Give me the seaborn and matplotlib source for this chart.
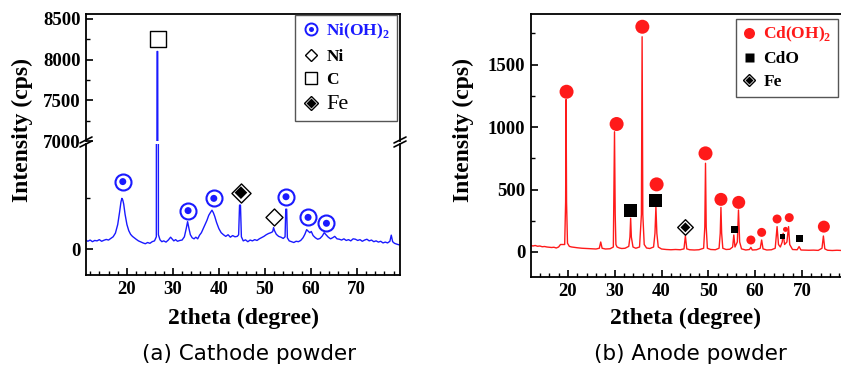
import numpy as np
import pandas as pd
import matplotlib
matplotlib.use("Agg")
import matplotlib.pyplot as plt
import seaborn as sns
from matplotlib.lines import Line2D
from matplotlib.ticker import MultipleLocator, FixedLocator

# ---------------- data: (a) cathode powder ----------------
cath_x = [11.0, 11.5, 12.0, 12.5, 13.0, 13.5, 14.0, 14.5, 15.0, 15.5, 16.0, 16.5, 17.0, 17.5,
          18.0, 18.4, 18.7, 18.9, 19.1, 19.3, 19.6, 20.0, 20.4, 20.8, 21.2, 21.6, 22.0, 22.5,
          23.0, 23.5, 24.0, 24.5, 25.0, 25.5, 26.0, 26.4, 26.55, 26.7, 26.85, 27.2, 27.6, 28.0,
          28.5, 29.0, 29.5, 29.8, 30.2, 30.6, 31.0, 31.5, 32.0, 32.5, 32.9, 33.2, 33.5, 33.8,
          34.2, 34.6, 35.0, 35.4, 35.8, 36.2, 36.6, 37.0, 37.4, 37.8, 38.2, 38.5, 38.8, 39.1,
          39.5, 40.0, 40.5, 41.0, 41.5, 42.0, 42.5, 43.0, 43.5, 44.0, 44.3, 44.5, 44.7, 44.9,
          45.3, 45.8, 46.3, 46.8, 47.3, 47.8, 48.3, 48.8, 49.3, 49.8, 50.3, 50.8, 51.3, 51.7,
          51.9, 52.1, 52.5, 53.0, 53.5, 54.0, 54.4, 54.55, 54.75, 54.9, 55.3, 55.8, 56.3, 56.8,
          57.3, 57.8, 58.3, 58.7, 59.1, 59.4, 59.8, 60.1, 60.5, 61.0, 61.5, 62.0, 62.5, 62.9,
          63.3, 63.8, 64.3, 64.8, 65.2, 65.7, 66.2, 66.7, 67.2, 67.7, 68.2, 68.7, 69.2, 69.7,
          70.2, 70.7, 71.2, 71.7, 72.2, 72.7, 73.2, 73.7, 74.2, 74.7, 75.2, 75.7, 76.2, 76.7,
          77.2, 77.5, 77.8, 78.2, 78.7, 79.3]
cath_y = [45, 38, 44, 36, 42, 40, 46, 38, 43, 47, 44, 52, 60, 78,
          120, 180, 230, 248, 240, 220, 170, 120, 90, 72, 62, 55, 48, 40,
          35, 30, 26, 32, 28, 36, 40, 60, 8100, 8100, 70, 45, 36, 40,
          34, 44, 58, 50, 40, 46, 38, 42, 44, 60, 100, 134, 100, 70,
          55, 50, 58, 50, 68, 80, 100, 120, 140, 165, 180, 190, 178, 160,
          130, 100, 80, 70, 62, 70, 58, 66, 60, 62, 70, 215, 215, 60,
          40, 45, 36, 44, 40, 46, 42, 50, 56, 62, 70, 76, 80, 85,
          105, 90, 72, 62, 58, 52, 60, 195, 195, 55, 40, 36, 32, 38,
          36, 42, 55, 72, 95, 88, 80, 86, 66, 55, 48, 52, 64, 80,
          70, 58, 50, 56, 62, 50, 48, 44, 50, 42, 46, 40, 50, 48,
          42, 46, 38, 44, 48, 40, 44, 36, 40, 34, 38, 30, 34, 30,
          38, 68, 36, 28, 24, 20]

nioh_x = [19.1, 33.3, 38.9, 54.6, 59.4, 63.4]
nioh_y = [330, 188, 248, 256, 155, 126]
ni_x, ni_y = [52.0], [158]
c_x, c_y = [26.8], [8256]
fe_a_x, fe_a_y = [44.8], [276]

# ---------------- data: (b) anode powder ----------------
an_x = [11.0, 11.5, 12.0, 12.5, 13.0, 13.5, 14.0, 14.5, 15.0, 15.5, 16.0, 16.5, 17.0, 17.5,
        18.0, 18.4, 19.3, 19.5, 19.6, 19.7, 19.9, 20.3, 20.8, 21.5, 22.0, 23.0, 24.0, 25.0,
        26.0, 26.7, 27.0, 27.3, 28.0, 29.0, 29.7, 29.95, 30.1, 30.25, 30.5, 31.0, 31.5, 32.2,
        33.0, 33.25, 33.4, 33.55, 33.9, 34.5, 35.3, 35.7, 35.85, 36.0, 36.3, 36.8, 37.5, 38.3,
        38.6, 38.8, 39.0, 39.3, 40.0, 41.0, 42.0, 43.0, 44.0, 44.8, 45.1, 45.4, 46.0, 47.0,
        48.0, 49.0, 49.25, 49.4, 49.55, 49.8, 50.5, 51.5, 52.3, 52.55, 52.7, 52.85, 53.1, 53.8,
        54.6, 55.2, 55.45, 55.7, 56.2, 56.45, 56.7, 57.1, 58.0, 58.8, 59.1, 59.4, 60.3, 61.1,
        61.4, 61.7, 62.5, 63.5, 64.3, 64.7, 65.0, 65.4, 65.8, 66.0, 66.3, 66.8, 67.15, 67.4,
        68.0, 69.0, 69.4, 69.8, 70.5, 71.5, 72.5, 73.5, 74.3, 74.6, 74.9, 75.5, 76.5, 77.5,
        78.5, 79.5, 80.5]
an_y = [56, 50, 54, 48, 52, 46, 48, 42, 44, 40, 38, 36, 38, 32,
        40, 60, 60, 400, 1220, 400, 70, 45, 40, 36, 34, 30, 28, 26,
        24, 30, 80, 30, 24, 26, 40, 962, 300, 60, 40, 32, 28, 30,
        45, 120, 270, 120, 40, 30, 40, 300, 1722, 300, 60, 32, 28, 40,
        150, 363, 150, 40, 24, 20, 18, 20, 18, 25, 128, 25, 18, 16,
        18, 30, 200, 710, 200, 30, 20, 18, 30, 150, 357, 150, 30, 20,
        22, 40, 136, 40, 80, 336, 80, 25, 16, 20, 37, 16, 18, 30,
        96, 25, 16, 18, 30, 203, 60, 40, 80, 150, 60, 80, 203, 60,
        20, 18, 43, 16, 15, 14, 15, 13, 30, 128, 25, 14, 12, 14,
        12, 13, 12]

cdoh_x = [19.7, 30.4, 35.9, 38.95, 49.4, 52.7, 56.5, 59.1, 61.4, 64.7, 66.5, 67.3, 74.7]
cdoh_y = [1282, 1024, 1802, 541, 789, 421, 397, 96, 157, 264, 181, 275, 203]
cdoh_px = [14, 14, 14, 14, 14, 13, 13, 9, 9, 9, 5, 9, 12]
cdo_x = [33.4, 38.8, 55.5, 65.9, 69.4]
cdo_y = [336, 410, 181, 128, 109]
cdo_px = [13, 13, 7, 5, 7]
fe_b_x, fe_b_y = [45.1], [197]

# ---------------- style ----------------
sns.set_style("ticks")
plt.rcParams["font.family"] = ["Liberation Serif", "DejaVu Serif"]
plt.rcParams["font.weight"] = "bold"
plt.rcParams["mathtext.fontset"] = "custom"
plt.rcParams["mathtext.rm"] = "Liberation Serif:bold"
plt.rcParams["mathtext.bf"] = "Liberation Serif:bold"
plt.rcParams["axes.linewidth"] = 1.3
for k in ("text.color", "axes.labelcolor", "xtick.color", "ytick.color", "axes.edgecolor"):
    plt.rcParams[k] = "black"

W, H = 841, 369
fig = plt.figure(figsize=(W / 100, H / 100), dpi=100)

def add_ax(l, t, r, b):
    return fig.add_axes([l / W, 1 - b / H, (r - l) / W, (b - t) / H])

BLUE = "#1a1aff"
RED = "#ff1a1a"
PT = 0.72  # points per pixel

def style_ticks(ax):
    ax.tick_params(which="major", direction="in", length=5, width=1.2, labelsize=13.5, pad=4,
                   color="black", labelcolor="black")
    ax.tick_params(which="minor", direction="in", length=3, width=1.0, color="black")
    for lab in ax.get_xticklabels() + ax.get_yticklabels():
        lab.set_fontweight("bold")
    for sp in ax.spines.values():
        sp.set_color("black")

# ---- (a) ----
dfa = pd.DataFrame({"x": cath_x, "y": cath_y})
ax_lo = add_ax(86, 144, 400, 275)
ax_hi = add_ax(86, 14, 400, 141)
for ax in (ax_lo, ax_hi):
    sns.lineplot(data=dfa, x="x", y="y", ax=ax, color=BLUE, linewidth=1.0,
                 sort=False, estimator=None, legend=False)
    ax.set_xlim(11.1, 79.4)
    ax.set_xlabel("")
    ax.set_ylabel("")
ax_lo.set_ylim(-127, 514)
ax_hi.set_ylim(7000, 8561)
ax_lo.spines["top"].set_visible(False)
ax_hi.spines["bottom"].set_visible(False)
ax_lo.yaxis.set_major_locator(FixedLocator([0]))
ax_lo.yaxis.set_minor_locator(FixedLocator([250]))
ax_hi.yaxis.set_major_locator(MultipleLocator(500))
ax_hi.yaxis.set_minor_locator(MultipleLocator(250))
ax_lo.xaxis.set_major_locator(MultipleLocator(10))
ax_lo.xaxis.set_minor_locator(MultipleLocator(2))
ax_hi.tick_params(axis="x", which="both", bottom=False, labelbottom=False)
ax_lo.set_xticks([20, 30, 40, 50, 60, 70])
style_ticks(ax_lo)
style_ticks(ax_hi)

# markers (a)
ax_lo.scatter(nioh_x, nioh_y, s=(16 * PT) ** 2, facecolor="white", edgecolor=BLUE, linewidth=1.5, zorder=5)
ax_lo.scatter(nioh_x, nioh_y, s=(7 * PT) ** 2, facecolor=BLUE, edgecolor="none", zorder=6)
ax_lo.scatter(ni_x, ni_y, marker="D", s=(12 * PT) ** 2, facecolor="white", edgecolor="black", linewidth=1.0, zorder=5)
ax_lo.scatter(fe_a_x, fe_a_y, marker="D", s=(13.5 * PT) ** 2, facecolor="white", edgecolor="black", linewidth=1.0, zorder=5)
ax_lo.scatter(fe_a_x, fe_a_y, marker="D", s=(9 * PT) ** 2, facecolor="black", edgecolor="none", zorder=6)
ax_hi.scatter(c_x, c_y, marker="s", s=(16 * PT) ** 2, facecolor="white", edgecolor="black", linewidth=1.0, zorder=5)

h_nioh = (Line2D([], [], ls="none", marker="o", ms=12 * PT, mfc="white", mec=BLUE, mew=1.4),
          Line2D([], [], ls="none", marker="o", ms=5 * PT, mfc=BLUE, mec="none"))
h_ni = Line2D([], [], ls="none", marker="D", ms=9 * PT, mfc="white", mec="black", mew=1.0)
h_c = Line2D([], [], ls="none", marker="s", ms=12 * PT, mfc="white", mec="black", mew=1.0)
h_fe = (Line2D([], [], ls="none", marker="D", ms=10 * PT, mfc="white", mec="black", mew=1.0),
        Line2D([], [], ls="none", marker="D", ms=6.5 * PT, mfc="black", mec="none"))
leg_a = ax_hi.legend([h_nioh, h_ni, h_c, h_fe], ["Ni(OH)$_\\mathbf{2}$", "Ni", "C", "Fe"],
                     loc="upper right", bbox_to_anchor=(0.99, 0.992), borderaxespad=0,
                     frameon=True, fancybox=False, edgecolor="#555555", framealpha=1,
                     prop={"size": 12.5, "weight": "bold"}, handlelength=1.0,
                     handletextpad=0.4, labelspacing=0.42, borderpad=0.4)
leg_a.get_frame().set_linewidth(1.0)
ts = leg_a.get_texts()
ts[0].set_color(BLUE)
for t in ts[1:]:
    t.set_color("black")
ts[3].set_fontweight("normal")
ts[3].set_fontsize(16)

# break marks
def brk(xp, yp):
    for dy in (0, 4):
        fig.add_artist(Line2D([(xp - 6) / W, (xp + 6) / W],
                              [1 - (yp + dy + 3) / H, 1 - (yp + dy - 3) / H],
                              color="black", lw=1.2, transform=fig.transFigure))
brk(86, 140)
brk(400, 140)

# ---- (b) ----
dfb = pd.DataFrame({"x": an_x, "y": an_y})
ax_b = add_ax(531, 14, 851, 277)
sns.lineplot(data=dfb, x="x", y="y", ax=ax_b, color=RED, linewidth=1.0,
             sort=False, estimator=None, legend=False)
ax_b.set_xlim(12.1, 80.5)
ax_b.set_ylim(-200, 1904)
ax_b.set_xlabel("")
ax_b.set_ylabel("")
ax_b.set_xticks([20, 30, 40, 50, 60, 70])
ax_b.xaxis.set_minor_locator(MultipleLocator(2))
ax_b.yaxis.set_major_locator(FixedLocator([0, 500, 1000, 1500]))
ax_b.yaxis.set_minor_locator(MultipleLocator(250))
style_ticks(ax_b)

ax_b.scatter(cdoh_x, cdoh_y, s=[(p * PT) ** 2 for p in cdoh_px], facecolor=RED, edgecolor="none", zorder=5)
ax_b.scatter(cdo_x, cdo_y, marker="s", s=[(p * PT) ** 2 for p in cdo_px], facecolor="black", edgecolor="none", zorder=5)
ax_b.scatter(fe_b_x, fe_b_y, marker="D", s=(11 * PT) ** 2, facecolor="white", edgecolor="black", linewidth=1.0, zorder=5)
ax_b.scatter(fe_b_x, fe_b_y, marker="D", s=(7 * PT) ** 2, facecolor="black", edgecolor="none", zorder=6)

h_cd = Line2D([], [], ls="none", marker="o", ms=11 * PT, mfc=RED, mec="none")
h_cdo = Line2D([], [], ls="none", marker="s", ms=9 * PT, mfc="black", mec="none")
h_feb = (Line2D([], [], ls="none", marker="D", ms=9 * PT, mfc="white", mec="black", mew=1.0),
         Line2D([], [], ls="none", marker="D", ms=6 * PT, mfc="black", mec="none"))
leg_b = ax_b.legend([h_cd, h_cdo, h_feb], ["Cd(OH)$_\\mathbf{2}$", "CdO", "Fe"],
                    loc="upper right", bbox_to_anchor=(0.959, 0.981), borderaxespad=0,
                    frameon=True, fancybox=False, edgecolor="#555555", framealpha=1,
                    prop={"size": 12.5, "weight": "bold"}, handlelength=0.9,
                    handletextpad=0.35, labelspacing=0.4, borderpad=0.35)
leg_b.get_frame().set_linewidth(1.0)
tb = leg_b.get_texts()
tb[0].set_color(RED)
for t in tb[1:]:
    t.set_color("black")

# ---- labels & captions ----
for cx, yl_x in ((243, 22), (686, 463)):
    fig.text(cx / W, 1 - 318 / H, "2theta (degree)", ha="center", va="center",
             fontsize=17, fontweight="bold", color="black")
    fig.text(yl_x / W, 1 - 130 / H, "Intensity (cps)", ha="center", va="center",
             rotation=90, fontsize=17, fontweight="bold", color="black")
fig.text(249 / W, 1 - 354 / H, "(a) Cathode powder", ha="center", va="center",
         fontsize=15.5, fontweight="normal", family=["DejaVu Sans"], color="black")
fig.text(690 / W, 1 - 354 / H, "(b) Anode powder", ha="center", va="center",
         fontsize=15.5, fontweight="normal", family=["DejaVu Sans"], color="black")

fig.savefig("out.png", dpi=100, facecolor="white")
